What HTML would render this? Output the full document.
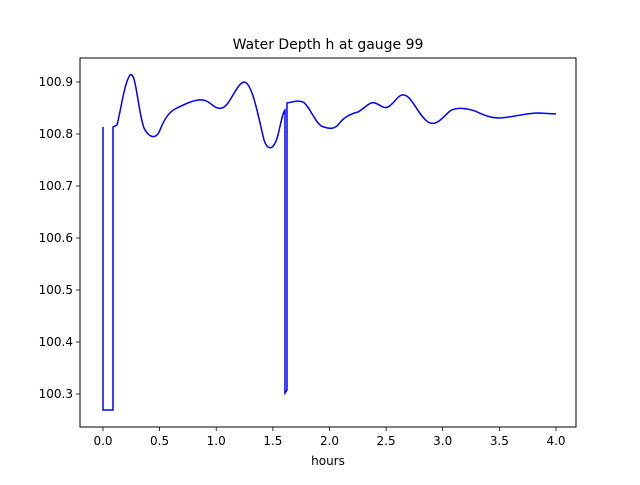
<!DOCTYPE html>
<html><head><meta charset="utf-8"><style>
html,body{margin:0;padding:0;background:#fff;}
text{font-family:"DejaVu Sans","Liberation Sans",sans-serif;font-size:12px;fill:#000;}
</style></head><body>
<svg width="640" height="480" viewBox="0 0 640 480" xmlns="http://www.w3.org/2000/svg">
<rect width="640" height="480" fill="#fff"/>
<text x="328" y="49" text-anchor="middle" style="font-size:14px">Water Depth h at gauge 99</text>
<path d="M103,127 L103,410 L113,410 L113,127 L117,125 C121,110 124,84 130,75 C136,70 138,112 144,128 C149,138 156,140 160,130 C164,120 168,113 175,109 C185,104 195,99 203,100 C211,101 214,110 222,108 C230,106 236,84 244,82 C252,82 258,115 264,140 C268,152 274,150 278,135 C281,122 283,112 285,110 L285,393 L287,390 L287,103 C292,102 298,100 303,102 C310,106 316,126 324,127 C330,129 334,129 338,125 C344,117 350,114 358,112 C365,108 370,101 375,103 C381,105 383,109 388,107 C395,103 398,94 404,95 C412,96 418,115 428,122 C436,127 442,118 450,111 C456,107 466,108 475,111 C484,115 490,118 500,118 C515,117 525,113 539,113 L556,114" fill="none" stroke="#0000ff" stroke-width="1.5"/>
<rect x="80" y="58" width="496" height="369" fill="none" stroke="#000" stroke-width="1"/>
<g stroke="#000" stroke-width="0.8">
<line x1="103" y1="427" x2="103" y2="431"/><line x1="159.6" y1="427" x2="159.6" y2="431"/><line x1="216.2" y1="427" x2="216.2" y2="431"/><line x1="272.9" y1="427" x2="272.9" y2="431"/><line x1="329.5" y1="427" x2="329.5" y2="431"/><line x1="386.1" y1="427" x2="386.1" y2="431"/><line x1="442.7" y1="427" x2="442.7" y2="431"/><line x1="499.4" y1="427" x2="499.4" y2="431"/><line x1="556" y1="427" x2="556" y2="431"/>
<line x1="76" y1="394" x2="80" y2="394"/><line x1="76" y1="342" x2="80" y2="342"/><line x1="76" y1="290" x2="80" y2="290"/><line x1="76" y1="238" x2="80" y2="238"/><line x1="76" y1="186" x2="80" y2="186"/><line x1="76" y1="134" x2="80" y2="134"/><line x1="76" y1="82" x2="80" y2="82"/>
</g>
<g text-anchor="middle">
<text x="103" y="445">0.0</text><text x="159.6" y="445">0.5</text><text x="216.2" y="445">1.0</text><text x="272.9" y="445">1.5</text><text x="329.5" y="445">2.0</text><text x="386.1" y="445">2.5</text><text x="442.7" y="445">3.0</text><text x="499.4" y="445">3.5</text><text x="556" y="445">4.0</text>
<text x="328" y="465">hours</text>
</g>
<g text-anchor="end">
<text x="73" y="398">100.3</text><text x="73" y="346">100.4</text><text x="73" y="294">100.5</text><text x="73" y="242">100.6</text><text x="73" y="190">100.7</text><text x="73" y="138">100.8</text><text x="73" y="86">100.9</text>
</g>
</svg>
</body></html>
